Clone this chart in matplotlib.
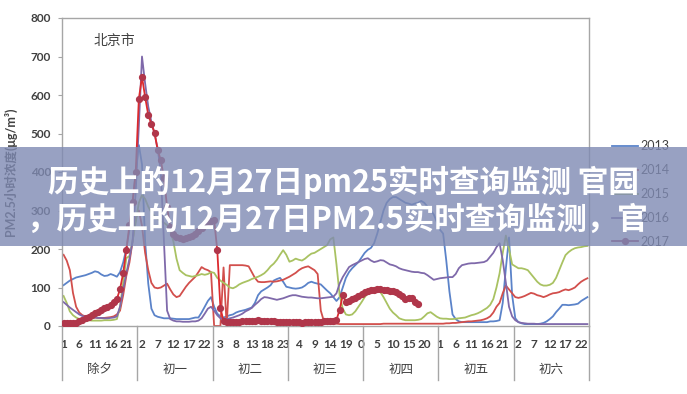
import numpy as np
import matplotlib
matplotlib.use("Agg")
import matplotlib.pyplot as plt
from matplotlib.lines import Line2D
from matplotlib.patches import Rectangle

plt.rcParams['font.family'] = ['Lato', 'Noto Sans CJK SC', 'DejaVu Sans']

days = ["除夕", "初一", "初二", "初三", "初四", "初五", "初六"]
tick_labels = ["1", "6", "11", "16", "21", "2", "7", "12", "17", "22",
               "3", "8", "13", "18", "23", "4", "9", "14", "19", "0",
               "5", "10", "15", "20", "1", "6", "11", "16", "21",
               "2", "7", "12", "17", "22"]
years = ["2013", "2014", "2015", "2016", "2017"]

# hourly PM2.5, 7 days x 24 hours
pm_2013 = [106, 112, 118, 122, 126, 128, 130, 132, 135, 138, 142, 140, 134, 130, 131, 135, 132, 128, 140, 165, 200, 250, 320, 400,
           470, 420, 220, 110, 45, 28, 24, 22, 20, 20, 20, 19, 18, 18, 18, 18, 18, 20, 22, 22, 35, 50, 65, 75,
           50, 32, 25, 22, 25, 28, 30, 35, 38, 40, 42, 45, 48, 60, 80, 90, 95, 100, 106, 118, 122, 125, 115, 102,
           100, 98, 97, 98, 100, 105, 112, 115, 112, 110, 108, 100, 92, 85, 75, 65, 75, 100, 125, 140, 150, 158, 166, 178,
           190, 198, 203, 215, 240, 270, 300, 320, 330, 335, 335, 330, 325, 320, 318, 315, 318, 320, 325, 320, 310, 300, 290, 270,
           250, 240, 170, 90, 30, 18, 12, 10, 10, 10, 10, 10, 10, 10, 10, 10, 12, 12, 13, 15, 60, 150, 230, 80,
           20, 10, 7, 5, 5, 5, 5, 5, 6, 8, 12, 18, 25, 36, 45, 55, 55, 54, 55, 56, 58, 65, 70, 75]
pm_2014 = [185, 170, 145, 86, 50, 35, 28, 25, 23, 22, 22, 21, 21, 21, 22, 23, 25, 30, 40, 80, 130, 165, 220, 280,
           300, 260, 190, 145, 112, 100, 98, 100, 105, 110, 95, 82, 75, 78, 90, 102, 112, 120, 128, 140, 153, 148, 145, 140,
           0, 0, 0, 152, 0, 158, 158, 158, 158, 158, 157, 155, 140, 125, 115, 114, 114, 115, 116, 115, 116, 118, 120, 124,
           128, 133, 138, 145, 150, 153, 155, 150, 145, 135, 40, 12, 8, 7, 6, 6, 5, 5, 5, 5, 5, 5, 5, 5,
           5, 5, 5, 5, 5, 5, 6, 6, 6, 6, 6, 6, 6, 6, 6, 6, 6, 6, 6, 6, 6, 6, 6, 6,
           6, 6, 7, 7, 8, 8, 9, 10, 11, 12, 12, 13, 14, 15, 17, 20, 25, 35, 50, 60, 85, 105, 95, 85,
           75, 73, 75, 78, 82, 86, 84, 80, 78, 75, 78, 82, 85, 86, 88, 92, 95, 93, 96, 100, 108, 115, 120, 124]
pm_2015 = [78, 60, 38, 28, 22, 18, 16, 15, 15, 14, 14, 14, 14, 15, 15, 15, 16, 18, 50, 112, 176, 182, 220, 270,
           320, 340, 330, 310, 295, 285, 278, 272, 268, 262, 250, 220, 175, 145, 138, 132, 130, 128, 130, 132, 135, 133, 135, 140,
           138, 125, 118, 112, 107, 100, 98, 102, 108, 112, 115, 118, 122, 125, 128, 132, 137, 145, 155, 162, 172, 185, 197, 185,
           167, 170, 175, 172, 170, 175, 182, 188, 190, 195, 200, 205, 210, 225, 230, 160, 80, 45, 30, 28, 30, 38, 50, 62,
           75, 85, 90, 93, 92, 88, 75, 60, 45, 35, 28, 20, 17, 15, 15, 15, 15, 16, 18, 25, 33, 36, 30, 24,
           20, 19, 19, 18, 18, 19, 20, 21, 22, 25, 28, 30, 33, 37, 42, 47, 55, 70, 100, 137, 190, 235, 200, 160,
           155, 150, 150, 148, 145, 135, 125, 115, 108, 105, 105, 107, 112, 125, 145, 165, 184, 192, 198, 202, 204, 205, 207, 208]
pm_2016 = [62, 55, 48, 42, 36, 30, 26, 24, 23, 22, 22, 21, 21, 20, 20, 21, 22, 25, 50, 95, 137, 175, 220, 350,
           520, 700, 630, 570, 530, 500, 460, 400, 220, 40, 18, 14, 12, 12, 11, 11, 11, 12, 12, 14, 20, 32, 45, 50,
           40, 28, 20, 18, 18, 20, 22, 25, 28, 32, 38, 42, 47, 55, 62, 70, 75, 74, 72, 70, 68, 70, 72, 75,
           78, 80, 80, 78, 76, 75, 74, 74, 73, 72, 72, 73, 74, 75, 76, 85, 110, 127, 140, 153, 158, 162, 166, 170,
           174, 176, 170, 166, 168, 171, 170, 165, 160, 158, 155, 150, 147, 145, 143, 141, 140, 140, 138, 137, 132, 126, 120, 122,
           124, 125, 126, 127, 127, 135, 150, 158, 160, 162, 163, 163, 164, 165, 166, 170, 180, 190, 205, 215, 171, 112, 50, 25,
           15, 10, 8, 7, 6, 6, 6, 5, 5, 5, 5, 5, 5, 5, 5, 5, 5, 5, 5, 5, 5, 5, 5, 5]
pm_2017 = [8, 8, 8, 8, 9, 12, 15, 20, 24, 28, 33, 37, 42, 46, 50, 55, 62, 70, 96, 137, 197, 262, 322, 400,
           590, 647, 595, 548, 525, 502, 457, 431, 384, 309, 257, 240, 232, 228, 226, 228, 230, 235, 240, 248, 255, 262, 268, 272,
           275, 197, 47, 12, 10, 10, 11, 10, 11, 12, 12, 13, 13, 14, 15, 14, 14, 13, 12, 12, 11, 11, 10, 10,
           10, 10, 10, 10, 9, 10, 10, 10, 10, 11, 11, 12, 12, 13, 14, 16, 42, 80, 62, 65, 70, 74, 78, 84,
           88, 92, 93, 94, 95, 95, 94, 93, 92, 90, 88, 82, 78, 70, 74, 72, 62, 58]

colors = ["#5b83c9", "#d24f4c", "#a9c262", "#7f69aa", "#dc2a2e"]

fig = plt.figure(figsize=(6.87, 3.94), dpi=100)
ax = fig.add_axes([62 / 687, 68 / 394, 527 / 687, 308 / 394])

n = len(pm_2013)
x = np.arange(n)
series = [pm_2013, pm_2014, pm_2015, pm_2016]
for vals, c, lab in zip(series, colors[:4], years[:4]):
    ax.plot(x, vals, color=c, lw=1.3, label=lab)
ax.plot(np.arange(len(pm_2017)), pm_2017, color=colors[4], lw=1.3,
        marker="o", ms=4.2, mfc="#b0364a", mec="#b0364a", label=years[4], zorder=5)

ax.set_xlim(-0.5, n - 0.5)
ax.set_ylim(0, 800)
ax.set_yticks(range(0, 801, 100))
ax.set_xticks(np.arange(0, n, 5))
ax.set_xticklabels(tick_labels)
ax.tick_params(axis="x", length=0, pad=9.5, labelsize=8.5, labelcolor="#404040")
ax.tick_params(axis="y", length=3, pad=5, labelsize=8.5, labelcolor="#404040", color="#a6a6a6")
for lbl in ax.get_xticklabels() + ax.get_yticklabels():
    lbl.set_fontweight("bold")
for s in ax.spines.values():
    s.set_color("#a6a6a6")
    s.set_linewidth(1)

# day groups under the axis
trans = ax.get_xaxis_transform()
for i in range(len(days) + 1):
    ax.plot([i * 24 - 0.5] * 2, [0, -0.175], transform=trans, color="#a6a6a6",
            lw=1, clip_on=False)
for i, d in enumerate(days):
    ax.text(i * 24 + 11.5, -0.14, d, transform=trans, ha="center", va="center",
            fontsize=9, color="#404040")

ax.set_ylabel("PM2.5小时浓度(μg/m³)", fontsize=9, color="#404040", fontweight="bold", labelpad=10)
ax.text(9.5, 743, "北京市", fontsize=10, color="#404040", va="center")

handles = [Line2D([], [], color=c, lw=1.3) for c in colors[:4]]
handles.append(Line2D([], [], color="#9b3b62", lw=1.3, marker="o", ms=4.2))
fig.legend(handles, years, loc="center left", bbox_to_anchor=(612 / 687, 1 - 194 / 394),
           frameon=False, fontsize=9, labelcolor="#404040", handlelength=2.1,
           handletextpad=0.2, labelspacing=0.95, borderpad=0, borderaxespad=0)

# overlay banner
fig.patches.append(Rectangle((0, 1 - 246 / 394), 1, 99 / 394, transform=fig.transFigure,
                             facecolor="#7f8ab3", alpha=0.8, edgecolor="none", zorder=10))
fig.text(0.5, 1 - 182 / 394, "历史上的12月27日pm25实时查询监测 官园", ha="center", va="center",
         fontsize=22, color="white", fontweight="bold", family=["Noto Sans CJK SC"], zorder=11)
fig.text(26 / 687, 1 - 220 / 394, "，历史上的12月27日PM2.5实时查询监测，官", ha="left", va="center",
         fontsize=22, color="white", fontweight="bold", family=["Noto Sans CJK SC"], zorder=11)

fig.savefig("out.png", dpi=100)
